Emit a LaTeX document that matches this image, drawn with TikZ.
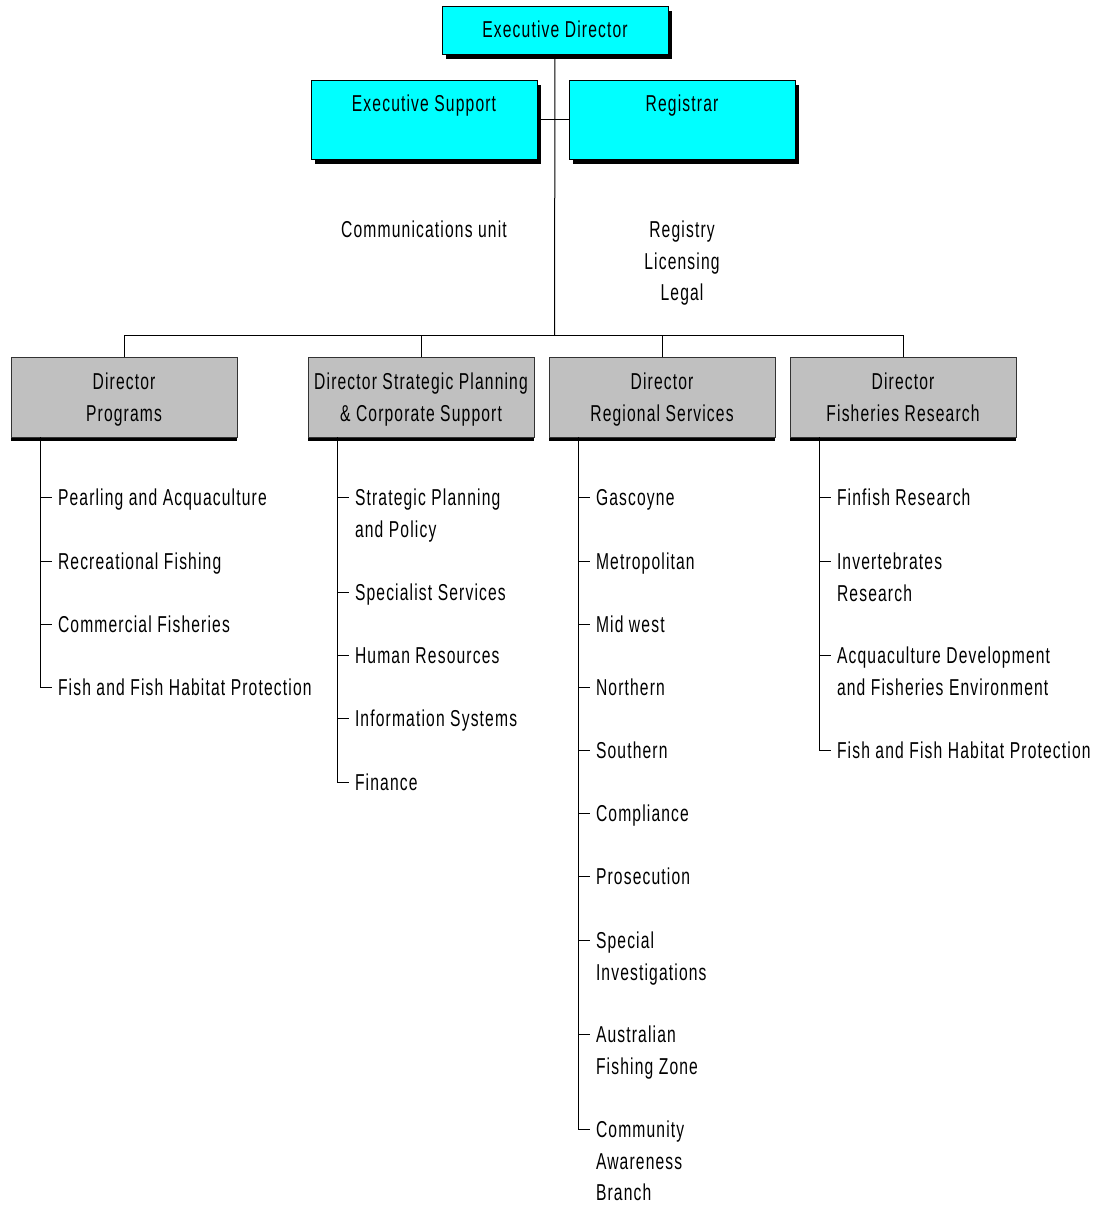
\documentclass[tikz,border=0pt]{standalone}
\usepackage{fontspec}
\setmainfont{Liberation Sans}[FakeStretch=0.68,LetterSpace=5]
\usetikzlibrary{calc,shadows}
\definecolor{cyanc}{HTML}{00FFFF}
\definecolor{grayc}{HTML}{C0C0C0}
\newcommand{\capst}{\rule{0pt}{17pt}}
\begin{document}
\begin{tikzpicture}[x=1pt,y=-1pt,
  every node/.style={inner sep=0pt,outer sep=0pt,font=\fontsize{23}{31.5}\selectfont},
  conn/.style={draw=black,line width=1pt},
  cbox/.style={draw=black,line width=0.8pt,fill=cyanc,minimum width=226pt,anchor=north west,
    general shadow={fill=black,shadow xshift=3.5pt,shadow yshift=-5pt}},
  gbox/.style={draw=black!80,line width=0.8pt,fill=grayc,minimum width=226pt,minimum height=80pt,anchor=north west,
    general shadow={fill=black,rounded corners=2pt,shadow xshift=0pt,shadow yshift=-4pt}},
  txt/.style={anchor=north,align=center},
  item/.style={anchor=north west,align=left}
]
\useasboundingbox (0,0) rectangle (1098,1205);
\newcommand{\tk}[1]{\draw[conn] ($(#1.north west)+(-18,8.5)$) -- ($(#1.north west)+(-6,8.5)$);}

% top boxes
\node[cbox,minimum height=48pt] (ed) at (442,6) {};
\node[cbox,minimum height=79pt] (es) at (311,80) {};
\node[cbox,minimum height=79pt] (reg) at (569,80) {};
\node[txt] (edt) at ($(ed.north)+(0,14.5)$) {\capst Executive Director};
\node[txt] (est) at ($(es.north)+(0,14.5)$) {\capst Executive Support};
\node[txt] (regt) at ($(reg.north)+(0,14.5)$) {\capst Registrar};

\node[txt] (comm) at (424,220.5) {\capst Communications unit};
\node[txt] (rll) at (682,220.5) {\capst Registry\\Licensing\\Legal};

% directors
\node[gbox] (d1) at (11,357) {};
\node[gbox] (d2) at (308,357) {};
\node[gbox] (d3) at (549,357) {};
\node[gbox] (d4) at (790,357) {};
\node[txt] (d1t) at ($(d1.north)+(0,15.5)$) {\capst Director\\Programs};
\node[txt] (d2t) at ($(d2.north)+(0,15.5)$) {\capst Director Strategic Planning\\\& Corporate Support};
\node[txt] (d3t) at ($(d3.north)+(0,15.5)$) {\capst Director\\Regional Services};
\node[txt] (d4t) at ($(d4.north)+(0,15.5)$) {\capst Director\\Fisheries Research};

% connectors top
\coordinate (bus) at (554.5,335);
\draw[conn] (ed.south) -- (bus);
\draw[conn] (es.east) -- (reg.west);
\draw[conn] (d1.north |- bus) -- (d4.north |- bus);
\foreach \d in {d1,d2,d3,d4} \draw[conn] (\d.north) -- (\d.north |- bus);

% Programs
\node[item] (p1) at (58,488.5) {\capst Pearling and Acquaculture};
\node[item] (p2) at (58,552.5) {\capst Recreational Fishing};
\node[item] (p3) at (58,615.5) {\capst Commercial Fisheries};
\node[item] (p4) at (58,678.5) {\capst Fish and Fish Habitat Protection};
\draw[conn] ($(d1.south west)+(29,0)$) -- ($(p4.north west)+(-18,8.5)$);
\foreach \i in {p1,p2,p3,p4} {\tk{\i}}

% Strategic
\node[item] (s1) at (355,488.5) {\capst Strategic Planning\\and Policy};
\node[item] (s2) at (355,583.5) {\capst Specialist Services};
\node[item] (s3) at (355,646.5) {\capst Human Resources};
\node[item] (s4) at (355,709.5) {\capst Information Systems};
\node[item] (s5) at (355,773.5) {\capst Finance};
\draw[conn] ($(d2.south west)+(29,0)$) -- ($(s5.north west)+(-18,8.5)$);
\foreach \i in {s1,s2,s3,s4,s5} {\tk{\i}}

% Regional
\node[item] (r1) at (596,488.5) {\capst Gascoyne};
\node[item] (r2) at (596,552.5) {\capst Metropolitan};
\node[item] (r3) at (596,615.5) {\capst Mid west};
\node[item] (r4) at (596,678.5) {\capst Northern};
\node[item] (r5) at (596,741.5) {\capst Southern};
\node[item] (r6) at (596,804.5) {\capst Compliance};
\node[item] (r7) at (596,867.5) {\capst Prosecution};
\node[item] (r8) at (596,931.5) {\capst Special\\Investigations};
\node[item] (r9) at (596,1025.5) {\capst Australian\\Fishing Zone};
\node[item] (r10) at (596,1120.5) {\capst Community\\Awareness\\Branch};
\draw[conn] ($(d3.south west)+(29,0)$) -- ($(r10.north west)+(-18,8.5)$);
\foreach \i in {r1,r2,r3,r4,r5,r6,r7,r8,r9,r10} {\tk{\i}}

% Fisheries
\node[item] (f1) at (837,488.5) {\capst Finfish Research};
\node[item] (f2) at (837,552.5) {\capst Invertebrates\\Research};
\node[item] (f3) at (837,646.5) {\capst Acquaculture Development\\and Fisheries Environment};
\node[item] (f4) at (837,741.5) {\capst Fish and Fish Habitat Protection};
\draw[conn] ($(d4.south west)+(29,0)$) -- ($(f4.north west)+(-18,8.5)$);
\foreach \i in {f1,f2,f3,f4} {\tk{\i}}
\end{tikzpicture}
\end{document}
